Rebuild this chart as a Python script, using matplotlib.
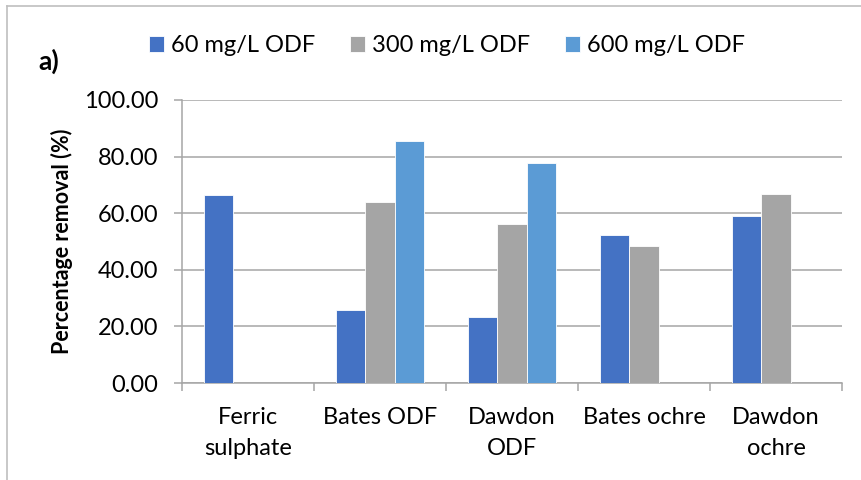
import matplotlib
matplotlib.use('Agg')
import matplotlib.pyplot as plt
from matplotlib.lines import Line2D
import numpy as np

plt.rcParams['font.family'] = ['Lato', 'DejaVu Sans']

# Data
categories = ['Ferric\nsulphate', 'Bates ODF', 'Dawdon\nODF', 'Bates ochre', 'Dawdon\nochre']
series_names = ['60 mg/L ODF', '300 mg/L ODF', '600 mg/L ODF']
odf_60 = [66.3, 25.9, 23.2, 52.2, 59.1]
odf_300 = [np.nan, 63.8, 56.3, 48.4, 66.8]
odf_600 = [np.nan, 85.6, 77.6, np.nan, np.nan]
yticks = [0, 20, 40, 60, 80, 100]

colors = ['#4472C4', '#A5A5A5', '#5B9BD5']
grid_col = '#A6A6A6'

fig = plt.figure(figsize=(8.61, 4.8), dpi=100)
ax = fig.add_axes([182 / 861, 1 - 383 / 480, 660 / 861, 283 / 480])

x = np.arange(len(categories))
width = 0.22
for k, (vals, name) in enumerate(zip([odf_60, odf_300, odf_600], series_names)):
    ax.bar(x + (k - 1) * width, vals, width, color=colors[k], label=name,
           edgecolor='white', linewidth=0.6, zorder=3)

ax.set_xlim(-0.5, len(categories) - 0.5)
ax.set_ylim(0, 100)
ax.set_yticks(yticks)
ax.set_yticklabels([f'{v:.2f}' for v in yticks], fontsize=17)
ax.yaxis.grid(True, color=grid_col, linewidth=1.1, zorder=0)
ax.tick_params(axis='y', length=6, color=grid_col, width=1.1, pad=11)

ax.set_xticks(x)
ax.set_xticklabels(categories, fontsize=17, linespacing=1.6)
ax.set_xticks(np.arange(len(categories) + 1) - 0.5, minor=True)
ax.tick_params(axis='x', which='major', length=0, pad=17)
ax.tick_params(axis='x', which='minor', length=6, color=grid_col, width=1.1)

ax.set_ylabel('Percentage removal (%)', fontsize=15.5, fontweight='bold', labelpad=8)

for side in ['top', 'right']:
    ax.spines[side].set_visible(False)
for side in ['left', 'bottom']:
    ax.spines[side].set_color(grid_col)
    ax.spines[side].set_linewidth(1.1)

# legend across the top
fig.legend(loc='center', bbox_to_anchor=(447 / 861, 1 - 46 / 480), ncol=3,
           frameon=False, fontsize=17, handlelength=0.64, handleheight=0.64,
           handletextpad=0.3, columnspacing=1.45)

fig.text(38 / 861, 1 - 61 / 480, 'a)', fontsize=19, fontweight='bold', va='center')

# chart border (only left and top visible in the crop)
fig.add_artist(Line2D([7 / 861, 7 / 861], [0, 1 - 6 / 480], color='#BFBFBF', lw=1.2))
fig.add_artist(Line2D([7 / 861, 1], [1 - 6 / 480, 1 - 6 / 480], color='#BFBFBF', lw=1.2))

fig.savefig('out.png', dpi=100)
